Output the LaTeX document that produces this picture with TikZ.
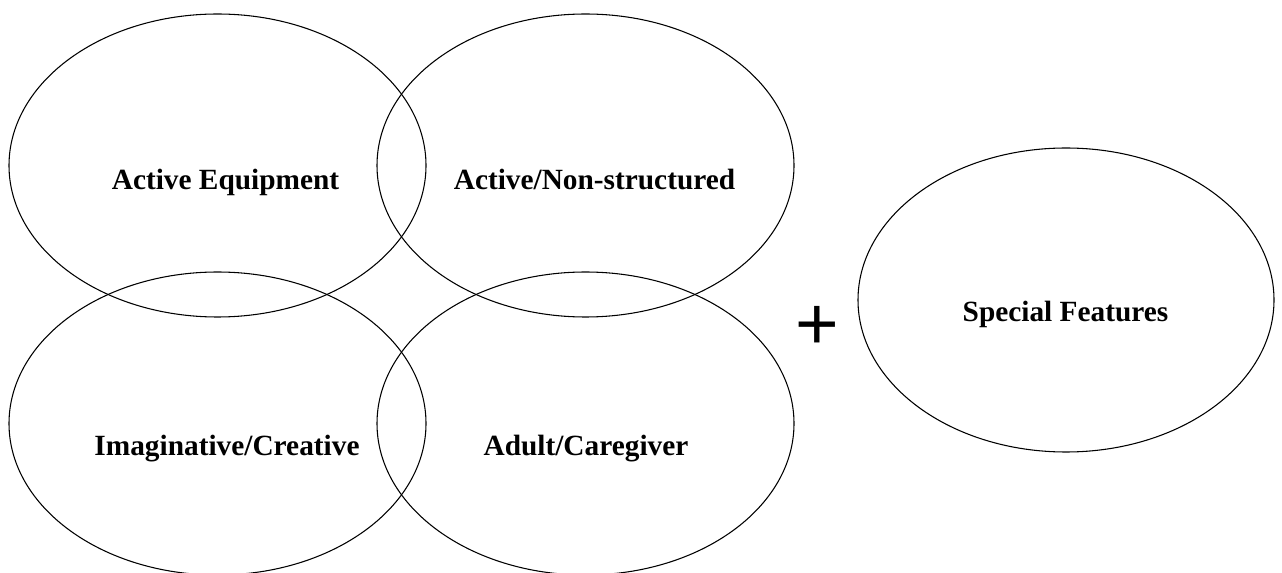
\documentclass[tikz,border=0pt]{standalone}
\usepackage{fontspec}
\setmainfont{Liberation Serif}
\newfontfamily\plusfont{Liberation Sans}
\usetikzlibrary{positioning}

\tikzset{
  area/.style={draw=black, line width=0.8pt},
  arealabel/.style={anchor=base, inner sep=0pt, font=\fontsize{22}{26}\selectfont\bfseries}
}

\begin{document}
\begin{tikzpicture}[x=0.75pt, y=-0.75pt]
  \useasboundingbox (0,0) rectangle (1282,573);

  % The four overlapping areas.
  \foreach \cx/\cy in {217.5/165.5, 585.5/165.5, 217.5/423.5, 585.5/423.5}{
    \path[area] (\cx,\cy) ellipse [x radius=208.5, y radius=151.5];
  }

  % The extra area on the right.
  \path[area] (1066,300) ellipse [x radius=208, y radius=152];

  % Labels.
  \node[arealabel] (equip)   at (225.5,190) {Active Equipment};
  \node[arealabel] (nonstruc) at (594.5,190) {Active/Non-structured};
  \node[arealabel] (imagin)  at (227,456) {Imaginative/Creative};
  \node[arealabel] (adult)   at (586,456) {Adult/Caregiver};
  \node[arealabel] (special) at (1065.5,322) {Special Features};

  \node[inner sep=0pt, font=\plusfont\fontsize{56}{60}\selectfont] (plus) at (817.5,328) {+};
\end{tikzpicture}
\end{document}
